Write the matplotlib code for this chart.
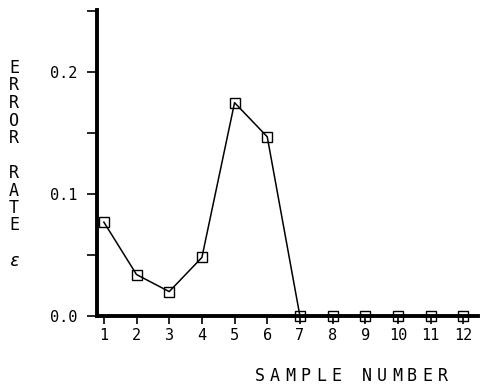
import numpy as np
import matplotlib.pyplot as plt

# Data
samples = np.arange(1, 13)
error_rate = [0.077, 0.034, 0.020, 0.048, 0.175, 0.147, 0.0, 0.0, 0.0, 0.0, 0.0, 0.0]
ylabel_chars = ['E', 'R', 'R', 'O', 'R', '', 'R', 'A', 'T', 'E', '', 'ε']
xlabel_chars = ['S', 'A', 'M', 'P', 'L', 'E', '', 'N', 'U', 'M', 'B', 'E', 'R']

plt.rcParams['font.family'] = ['DejaVu Sans Mono']

fig = plt.figure(figsize=(4.8, 3.86), dpi=100)
ax = fig.add_axes([97 / 480, 70 / 386, 381 / 480, 306 / 386])

ax.plot(samples, error_rate, 'k-', lw=1.1, marker='s', markersize=7,
        markerfacecolor='none', markeredgecolor='k', markeredgewidth=1.0,
        clip_on=False, zorder=3)

ax.set_xlim(0.79, 12.45)
ax.set_ylim(0, 0.251)

ax.spines['top'].set_visible(False)
ax.spines['right'].set_visible(False)
ax.spines['left'].set_linewidth(2.8)
ax.spines['bottom'].set_linewidth(2.8)

ax.set_xticks(samples)
ax.set_xticklabels([str(s) for s in samples], fontsize=11)
ax.set_yticks([0.0, 0.1, 0.2])
ax.set_yticklabels(['0.0', '0.1', '0.2'], fontsize=11)
ax.set_yticks([0.05, 0.15, 0.25], minor=True)
ax.tick_params(axis='y', which='both', direction='out', length=7, width=1.2, pad=7)
ax.tick_params(axis='x', direction='out', length=6, width=1.2, pad=3)

# Stacked vertical y label
for i, ch in enumerate(ylabel_chars):
    if ch:
        fig.text(14 / 480, 1 - (68 + i * 17.5) / 386, ch, fontsize=12,
                 ha='center', va='center',
                 style='italic' if ch == 'ε' else 'normal')

# Letter-spaced x label
for i, ch in enumerate(xlabel_chars):
    if ch:
        fig.text((260 + i * 15.2) / 480, 1 - 376 / 386, ch, fontsize=12,
                 ha='center', va='center')

fig.savefig('out.png', dpi=100)
